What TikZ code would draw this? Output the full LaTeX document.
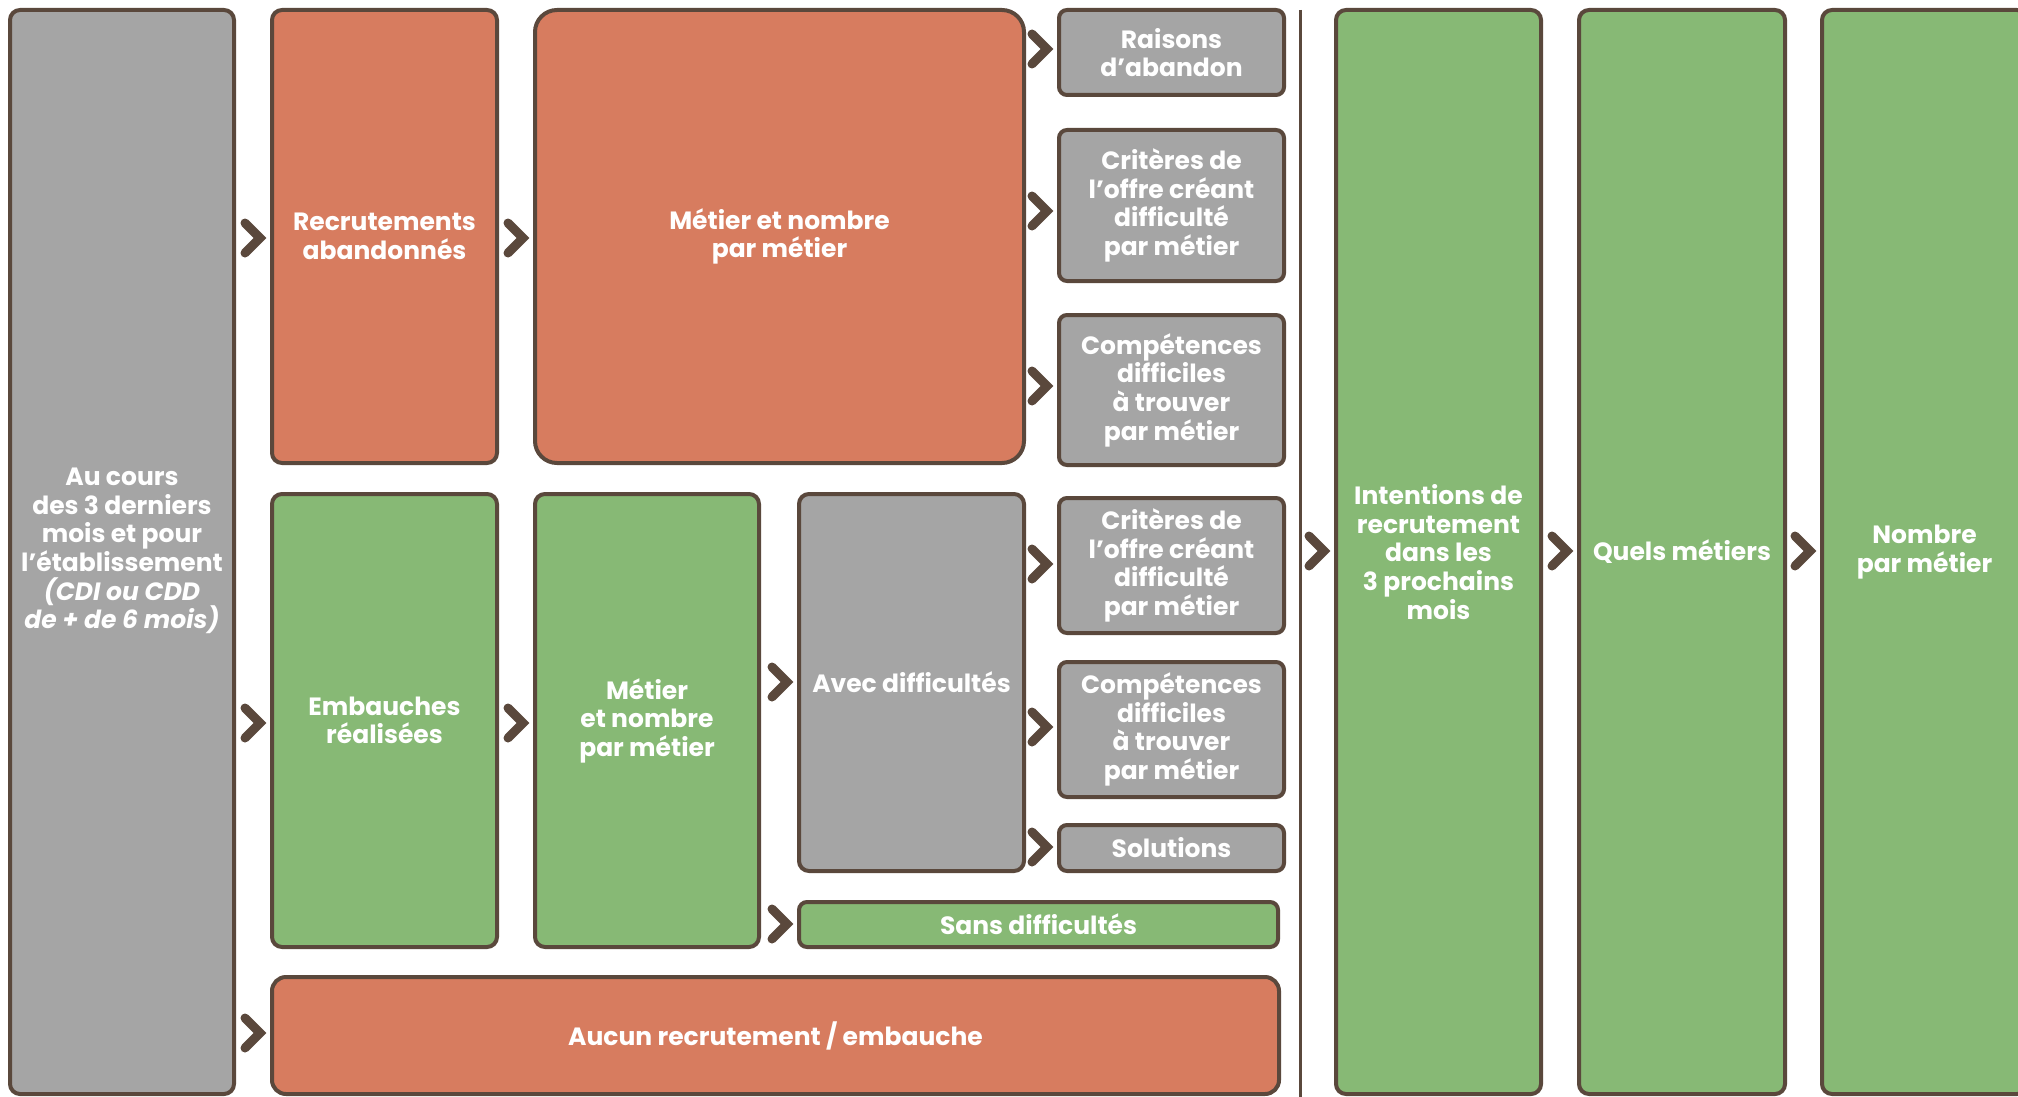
\documentclass[tikz,border=0pt]{standalone}
\usepackage{fontspec}
\setmainfont{Poppins}
\usetikzlibrary{calc,shadows}
\definecolor{cgray}{HTML}{A5A5A5}
\definecolor{corange}{HTML}{D77C5F}
\definecolor{cgreen}{HTML}{87B975}
\definecolor{cbrown}{HTML}{5A483C}
\tikzset{
  wh/.style 2 args={minimum width=#1*0.5pt, minimum height=#2*0.5pt},
  box/.style={draw=cbrown, line width=2pt, rounded corners=4pt, inner sep=0pt, outer sep=0pt,
    text=white, align=center, font=\fontsize{12.5pt}{14.3pt}\selectfont\bfseries,
    drop shadow={shadow xshift=0.6pt, shadow yshift=-0.6pt, opacity=0.18, fill=black}},
  gbox/.style={box, fill=cgray},
  obox/.style={box, fill=corange},
  vbox/.style={box, fill=cgreen},
  chev/.style={draw=cbrown, line width=4.5pt, line cap=round, line join=miter},
}
\newcommand\chevto[2]{%
  \coordinate (ct) at (#1.west |- 0,#2);
  \draw[chev] ([shift={(-27,-15)}]ct) -- ([shift={(-12,0)}]ct) -- ([shift={(-27,15)}]ct);}
\begin{document}
\begin{tikzpicture}[x=0.5pt,y=-0.5pt]
\useasboundingbox (0,0) rectangle (2018,1097);
\clip (0,0) rectangle (2018,1097);
\fill[white] (0,0) rectangle (2018,1097);
% left column
\node[gbox, wh={224}{1084}, rounded corners=5pt] (au) at (122,552) {};
\node[align=center, text=white, font=\fontsize{12.5pt}{14.3pt}\selectfont\bfseries] (aut) at (122,551)
  {Au cours\\des 3 derniers\\mois et pour\\l’établissement\\\textit{(CDI ou CDD}\\\textit{de + de 6 mois)}};
% top row
\node[obox, wh={225}{453}, rounded corners=5pt] (recr) at (384.5,236.5) {Recrutements\\abandonnés};
\node[obox, wh={489}{453}, rounded corners=11pt] (met1) at (779.5,236.5) {Métier et nombre\\par métier};
\node[gbox, wh={225}{85}] (rais) at (1171.5,52.5) {Raisons\\d’abandon};
\node[gbox, wh={225}{151}] (crit1) at (1171.5,205.5) {Critères de\\l’offre créant\\difficulté\\par métier};
\node[gbox, wh={225}{150}] (comp1) at (1171.5,390) {Compétences\\difficiles\\à trouver\\par métier};
% middle row
\node[vbox, wh={225}{453}, rounded corners=5pt] (emb) at (384.5,720.5) {Embauches\\réalisées};
\node[vbox, wh={224}{453}, rounded corners=5pt] (met2) at (647,720.5) {Métier\\et nombre\\par métier};
\node[gbox, wh={225}{377}, rounded corners=5pt] (avec) at (911.5,682.5) {Avec difficultés};
\node[gbox, wh={225}{135}] (crit2) at (1171.5,565.5) {Critères de\\l’offre créant\\difficulté\\par métier};
\node[gbox, wh={225}{135}] (comp2) at (1171.5,729.5) {Compétences\\difficiles\\à trouver\\par métier};
\node[gbox, wh={225}{46}] (sol) at (1171.5,848) {Solutions};
\node[vbox, wh={479}{45}] (sans) at (1038.5,924.5) {Sans difficultés};
% bottom row
\node[obox, wh={1007}{117}, rounded corners=7pt] (aucun) at (775.5,1035.5) {Aucun recrutement / embauche};
% separator
\coordinate (septop) at (1300,10);
\coordinate (sepbot) at (1300,1097);
\draw[cbrown, line width=1.5pt] (septop) -- (sepbot);
% right columns
\node[vbox, wh={205}{1084}, rounded corners=5pt] (intent) at (1438.5,552) {Intentions de\\recrutement\\dans les\\3 prochains\\mois};
\node[vbox, wh={206}{1084}, rounded corners=5pt] (quels) at (1682,552) {Quels métiers};
\node[vbox, wh={205}{1084}, rounded corners=5pt] (nombre) at (1924.5,552) {Nombre\\par métier};
% chevrons
\chevto{recr}{238}
\chevto{met1}{238}
\chevto{emb}{723}
\chevto{met2}{723}
\chevto{aucun}{1033}
\chevto{rais}{49}
\chevto{crit1}{211}
\chevto{comp1}{386}
\chevto{avec}{682}
\chevto{sans}{924}
\chevto{crit2}{564}
\chevto{comp2}{727}
\chevto{sol}{847}
\chevto{intent}{551}
\chevto{quels}{551}
\chevto{nombre}{551}
\end{tikzpicture}
\end{document}
